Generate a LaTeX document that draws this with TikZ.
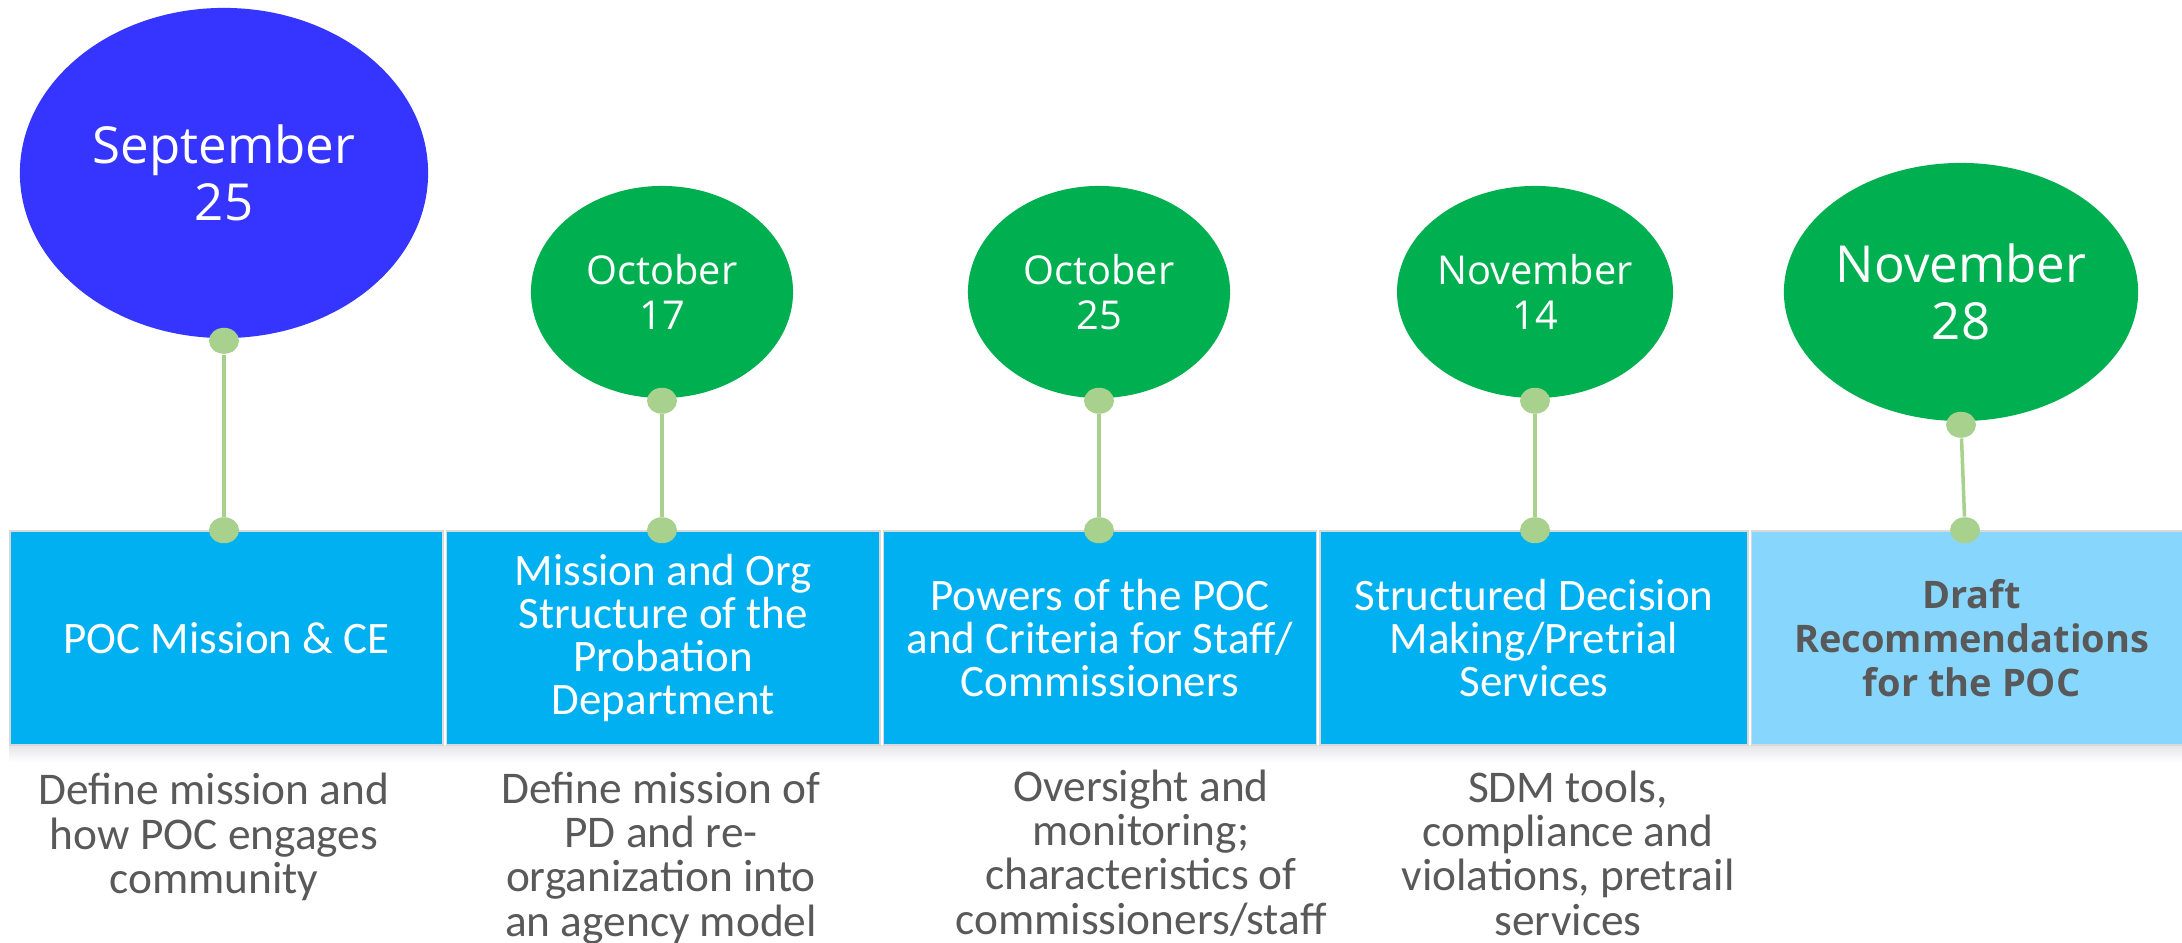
\documentclass[tikz,border=0pt]{standalone}
\usepackage{fontspec}
\setmainfont{Carlito}
\newfontfamily\datefont{Open Sans}
\usetikzlibrary{shapes.geometric}
\usetikzlibrary{positioning}

\definecolor{septblue}{HTML}{3535FF}
\definecolor{dategreen}{HTML}{00B050}
\definecolor{topicblue}{HTML}{00B0F0}
\definecolor{draftblue}{HTML}{87D6FD}
\definecolor{pingreen}{HTML}{A9D18E}
\definecolor{notegray}{HTML}{595959}

\tikzset{
  bigdate/.style={ellipse, fill=#1, text=white, inner sep=0pt,
    minimum width=4.08cm, minimum height=3.30cm, align=center,
    font=\datefont\fontsize{14.5}{16.2}\selectfont},
  smalldate/.style={ellipse, fill=dategreen, text=white, inner sep=0pt,
    minimum width=2.62cm, minimum height=2.12cm, align=center,
    font=\datefont\fontsize{11.3}{13}\selectfont},
  topic/.style={rectangle, fill=topicblue, draw=black!15, text=white,
    minimum width=4.33cm, minimum height=2.14cm, inner sep=0pt, align=center,
    font=\fontsize{12.8}{12.2}\selectfont},
  note/.style={text=notegray, align=center, inner sep=0pt,
    font=\fontsize{12.9}{12.6}\selectfont},
  pindot/.style={ellipse, fill=pingreen, inner sep=0pt,
    minimum width=0.30cm, minimum height=0.26cm},
  link/.style={pingreen, line width=1pt}
}

\begin{document}
\begin{tikzpicture}[x=0.01cm,y=-0.01cm]
\useasboundingbox (0,0) rectangle (2182,943);

% soft shadow under the timeline
\shade[top color=blue!12!black!10, bottom color=white] (9,745) rectangle (2182,762);

% topic boxes along the timeline
\node[topic] (t1) at (226.5,638) {POC Mission \& CE};
\node[topic, right=0.02cm of t1] (t2) {Mission and Org\\Structure of the\\Probation\\Department};
\node[topic, right=0.02cm of t2] (t3) {Powers of the POC\\and Criteria for Staff/\\Commissioners};
\node[topic, right=0.02cm of t3, minimum width=4.28cm] (t4) {Structured Decision\\Making/Pretrial\\Services};
\node[topic, right=0.02cm of t4, fill=draftblue, text=notegray, minimum width=4.40cm,
  font=\datefont\bfseries\fontsize{10.8}{12.5}\selectfont] (t5) {Draft\\Recommendations\\for the POC};

% dates
\node[bigdate=septblue] (d1) at (224,173) {September\\25};
\node[smalldate] (d2) at (662,292) {October\\17};
\node[smalldate] (d3) at (1099,292) {October\\25};
\node[smalldate] (d4) at (1535,292) {November\\14};
\node[bigdate=dategreen, minimum width=3.22cm, minimum height=2.58cm] (d5) at (1961,292) {November\\28};

% pins and connectors
\foreach \i in {1,...,4}{
  \node[pindot] (d\i p) at ([yshift=-0.02cm]d\i.south) {};
  \node[pindot] (t\i p) at (d\i p |- t\i.north) {};
  \draw[link] (d\i p) -- (t\i p);
}
\node[pindot] (d5p) at ([yshift=-0.03cm]d5.south) {};
\node[pindot] (t5p) at ([xshift=0.04cm]d5p |- t5.north) {};
\draw[link] (d5p) -- (t5p);

% notes under the boxes
\node[note] (n1) at (214,837) {Define mission and\\how POC engages\\community};
\node[note] (n2) at (661,858) {Define mission of\\PD and re-\\organization into\\an agency model};
\node[note] (n3) at (1141,853) {Oversight and\\monitoring;\\characteristics of\\commissioners/staff};
\node[note] (n4) at (1568,853) {SDM tools,\\compliance and\\violations, pretrail\\services};
\end{tikzpicture}
\end{document}
